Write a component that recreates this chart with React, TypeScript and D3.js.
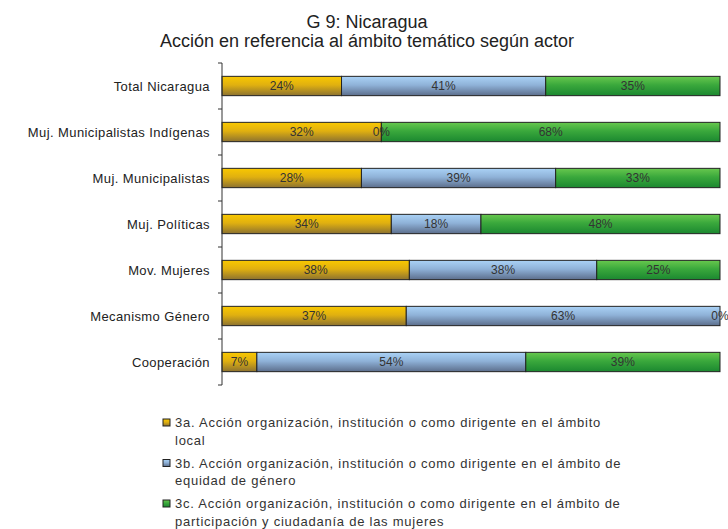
import React from "react";
import * as d3 from "d3";

const categories = [
  "Total Nicaragua",
  "Muj. Municipalistas Indígenas",
  "Muj. Municipalistas",
  "Muj. Políticas",
  "Mov. Mujeres",
  "Mecanismo Género",
  "Cooperación",
];
const serieLocal = [24, 32, 28, 34, 38, 37, 7];
const serieEquidad = [41, 0, 39, 18, 38, 63, 54];
const serieParticipacion = [35, 68, 33, 48, 25, 0, 39];

const seriesKeys = ["a", "b", "c"];
const legendLines = [
  ["3a. Acción organización, institución o como dirigente en el ámbito", "local"],
  ["3b. Acción organización, institución o como dirigente en el ámbito de", "equidad de género"],
  ["3c. Acción organización, institución o como dirigente en el ámbito de", "participación y ciudadanía de las mujeres"],
];
const gradients = [
  ["#f9c800", "#e0b010", "#8c7230"],
  ["#aad2f6", "#8fb2d8", "#5c6e8c"],
  ["#68c84e", "#3aa83c", "#1b8830"],
];

const W = 728;
const H = 529;
const font = "'Liberation Sans', Arial, sans-serif";

export default function App() {
  const margin = { left: 222, right: 8, top: 63, bottom: 144 };
  const rows = categories.map((c, i) => ({
    cat: c,
    a: serieLocal[i],
    b: serieEquidad[i],
    c: serieParticipacion[i],
  }));
  // rows don't always sum to 100 (rounding), so normalise each bar
  const stack = d3.stack<any>().keys(seriesKeys).offset(d3.stackOffsetExpand);
  const layers = stack(rows);

  const x = d3.scaleLinear().domain([0, 1]).range([margin.left, W - margin.right]);
  const y = d3
    .scaleBand()
    .domain(categories)
    .range([margin.top, H - margin.bottom])
    .paddingInner(0.58)
    .paddingOuter(0.29);
  const step = y.step();
  const yTop = margin.top;
  const yBottom = H - margin.bottom;

  return (
    <svg
      width={W}
      height={H}
      style={{ position: "absolute", left: 0, top: 0, background: "#fff" }}
      fontFamily={font}
    >
      <defs>
        {gradients.map((g, i) => (
          <linearGradient key={i} id={`grad${i}`} x1="0" y1="0" x2="0" y2="1">
            <stop offset="0%" stopColor={g[0]} />
            <stop offset="45%" stopColor={g[1]} />
            <stop offset="100%" stopColor={g[2]} />
          </linearGradient>
        ))}
      </defs>

      <text x={367} y={28} textAnchor="middle" fontSize={18} fill="#222">
        G 9: Nicaragua
      </text>
      <text x={367} y={47} textAnchor="middle" fontSize={18} fill="#222">
        Acción en referencia al ámbito temático según actor
      </text>

      {layers.map((layer, li) =>
        layer.map((d, i) => (
          <rect
            key={`${li}-${i}`}
            x={x(d[0])}
            y={y(categories[i])!}
            width={Math.max(0, x(d[1]) - x(d[0]))}
            height={y.bandwidth()}
            fill={`url(#grad${li})`}
            stroke="#222"
            strokeWidth={1}
          />
        ))
      )}
      {layers.map((layer, li) =>
        layer.map((d, i) => (
          <text
            key={`t${li}-${i}`}
            x={(x(d[0]) + x(d[1])) / 2}
            y={y(categories[i])! + y.bandwidth() / 2 + 4}
            textAnchor="middle"
            fontSize={12}
            fill="#333"
          >
            {`${(rows[i] as any)[seriesKeys[li]]}%`}
          </text>
        ))
      )}

      <line x1={margin.left} x2={margin.left} y1={yTop} y2={yBottom} stroke="#333" />
      {d3.range(categories.length + 1).map((k) => (
        <line
          key={k}
          x1={margin.left - 4}
          x2={margin.left}
          y1={yTop + k * step}
          y2={yTop + k * step}
          stroke="#333"
        />
      ))}
      {categories.map((c) => (
        <text
          key={c}
          x={margin.left - 12}
          y={y(c)! + y.bandwidth() / 2 + 4.5}
          textAnchor="end"
          fontSize={13}
          letterSpacing={0.4}
          fill="#222"
        >
          {c}
        </text>
      ))}

      {legendLines.map((lines, i) => {
        const base = 427 + i * 40.5;
        return (
          <g key={i}>
            <rect
              x={163}
              y={base - 8}
              width={7}
              height={7}
              fill={`url(#grad${i})`}
              stroke="#222"
            />
            {lines.map((t, j) => (
              <text
                key={j}
                x={175}
                y={base + j * 17.5}
                fontSize={13}
                letterSpacing={0.75}
                fill="#333"
              >
                {t}
              </text>
            ))}
          </g>
        );
      })}
    </svg>
  );
}
